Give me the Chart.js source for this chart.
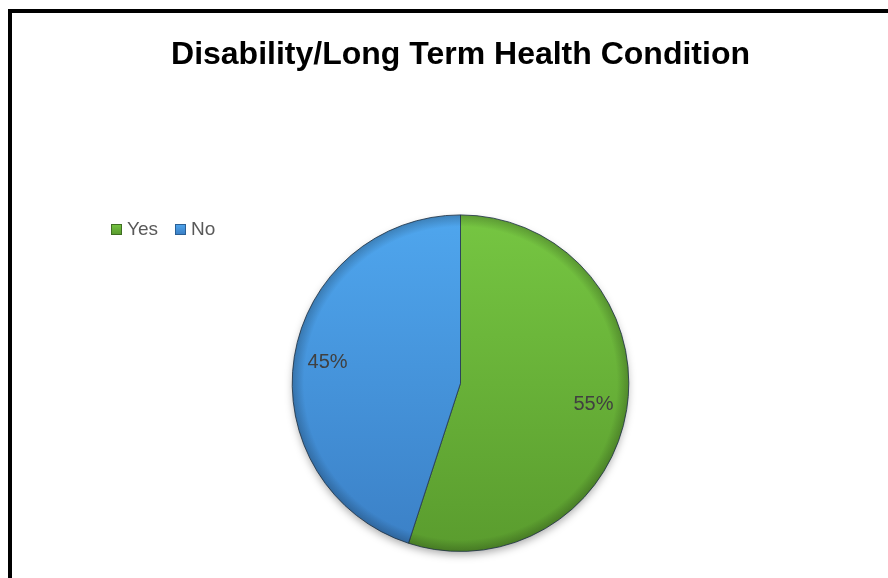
<!DOCTYPE html>
<html>
<head>
<meta charset="utf-8">
<script src="https://cdn.jsdelivr.net/npm/chart.js@4"></script>
<style>
  html, body { margin: 0; padding: 0; background: #fff; }
  #wrap { position: relative; width: 888px; height: 578px; }
  #frame { position: absolute; left: 8px; top: 9px; width: 900px; height: 600px;
           border-left: 4px solid #000; border-top: 4px solid #000; pointer-events: none; }
</style>
</head>
<body>
<div id="wrap">
  <canvas id="pieChart" width="888" height="578"></canvas>
  <div id="frame"></div>
</div>
<script>
// answers and their share
const labels = ["Yes", "No"];
const values = [55, 45];
// top / bottom shades for each slice
const topColors = ["#76c642", "#4fa6ee"];
const bottomColors = ["#5a9c2e", "#3b80c6"];
const edgeColors = ["#3f6e22", "#2b5f94"];

const FONT = "'Liberation Sans', Arial, sans-serif";

// vertical gradient across the pie for each slice
function sliceFill(context) {
  const chart = context.chart;
  const area = chart.chartArea;
  if (!area) return topColors[context.dataIndex];
  const g = chart.ctx.createLinearGradient(0, area.top, 0, area.bottom);
  g.addColorStop(0, topColors[context.dataIndex]);
  g.addColorStop(1, bottomColors[context.dataIndex]);
  return g;
}

// soft shadow under the pie + bevel rim on top
const pieShade = {
  id: "pieShade",
  beforeDatasetsDraw(chart) {
    const arc = chart.getDatasetMeta(0).data[0];
    if (!arc) return;
    const c = chart.ctx;
    c.save();
    c.shadowColor = "rgba(0,0,0,0.35)";
    c.shadowBlur = 9;
    c.shadowOffsetY = 4;
    c.beginPath();
    c.arc(arc.x, arc.y, arc.outerRadius - 1, 0, Math.PI * 2);
    c.fillStyle = "#fff";
    c.fill();
    c.restore();
  },
  afterDatasetsDraw(chart) {
    const arc = chart.getDatasetMeta(0).data[0];
    if (!arc) return;
    const c = chart.ctx;
    const r = arc.outerRadius;
    c.save();
    c.beginPath();
    c.arc(arc.x, arc.y, r, 0, Math.PI * 2);
    c.clip();
    const rim = c.createRadialGradient(arc.x, arc.y, r * 0.93, arc.x, arc.y, r);
    rim.addColorStop(0, "rgba(0,0,0,0)");
    rim.addColorStop(1, "rgba(0,0,0,0.22)");
    c.fillStyle = rim;
    c.fillRect(arc.x - r, arc.y - r, r * 2, r * 2);
    c.restore();
  }
};

// percentage labels placed at 80% of the radius
const pctLabels = {
  id: "pctLabels",
  afterDatasetsDraw(chart) {
    const c = chart.ctx;
    const data = chart.data.datasets[0].data;
    const total = data.reduce((a, b) => a + b, 0);
    c.save();
    c.font = "20px " + FONT;
    c.fillStyle = "#404040";
    c.textAlign = "center";
    c.textBaseline = "middle";
    chart.getDatasetMeta(0).data.forEach((el, i) => {
      const mid = (el.startAngle + el.endAngle) / 2;
      const d = el.outerRadius * 0.8;
      const x = el.x + Math.cos(mid) * d;
      const y = el.y + Math.sin(mid) * d;
      c.fillText(Math.round(data[i] / total * 100) + "%", x, y);
    });
    c.restore();
  }
};

// small legend on the left, row of bevelled boxes
const sideLegend = {
  id: "sideLegend",
  afterDraw(chart) {
    const c = chart.ctx;
    let x = 111;
    const y = 229;
    c.save();
    c.font = "19px " + FONT;
    c.textBaseline = "middle";
    chart.data.labels.forEach((lab, i) => {
      const g = c.createLinearGradient(0, y - 5, 0, y + 5);
      g.addColorStop(0, topColors[i]);
      g.addColorStop(1, bottomColors[i]);
      c.fillStyle = g;
      c.fillRect(x, y - 5, 11, 11);
      c.strokeStyle = edgeColors[i];
      c.lineWidth = 1;
      c.strokeRect(x + 0.5, y - 4.5, 10, 10);
      c.fillStyle = "#595959";
      c.fillText(lab, x + 16, y + 1);
      x += 16 + c.measureText(lab).width + 17;
    });
    c.restore();
  }
};

function makeChart() {
  const ctx = document.getElementById("pieChart").getContext("2d");
  return new Chart(ctx, {
    type: "pie",
    data: {
      labels,
      datasets: [{
        data: values,
        backgroundColor: sliceFill,
        borderColor: "rgba(40,60,80,0.85)",
        borderWidth: 1
      }]
    },
    options: {
      responsive: false,
      animation: false,
      layout: { padding: { left: 33, right: 0, bottom: 26 } },
      plugins: {
        legend: { display: false },
        tooltip: { enabled: false },
        title: {
          display: true,
          text: "Disability/Long Term Health Condition",
          color: "#000",
          font: { family: FONT, size: 32, weight: "bold", lineHeight: 1.2 },
          padding: { top: 36, bottom: 140 }
        }
      }
    },
    plugins: [pieShade, pctLabels, sideLegend]
  });
}

// make sure the local fonts are ready before drawing on the canvas
Promise.all([
  document.fonts.load("bold 32px 'Liberation Sans'"),
  document.fonts.load("19px 'Liberation Sans'")
]).then(makeChart, makeChart);
</script>
</body>
</html>
